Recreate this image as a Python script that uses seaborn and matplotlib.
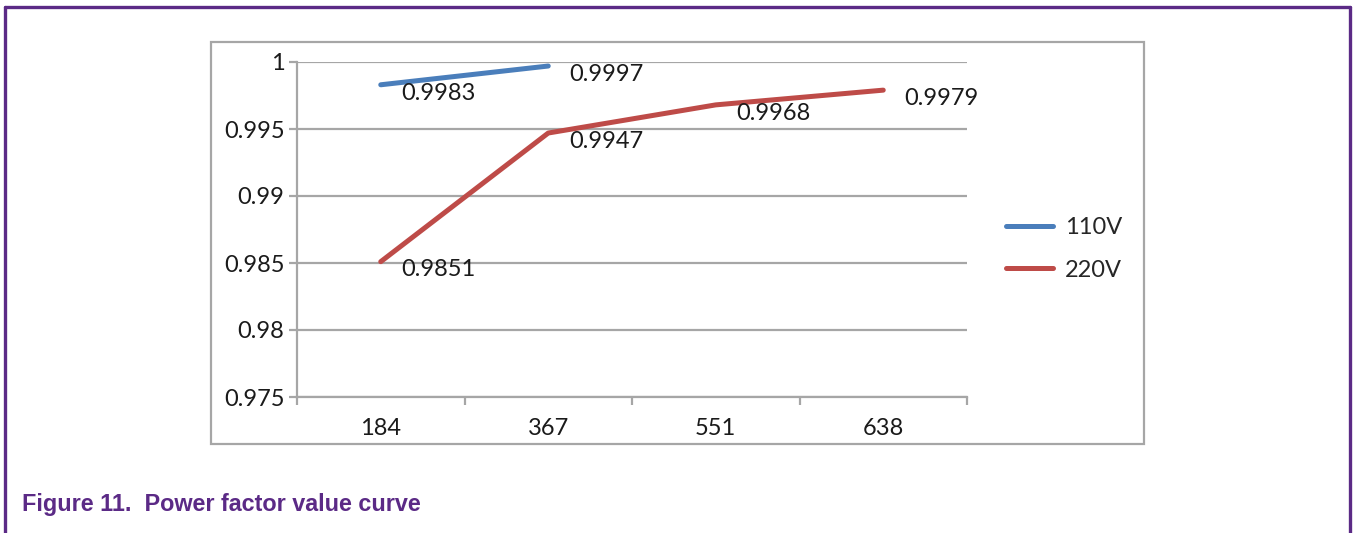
import matplotlib
matplotlib.use("Agg")
import matplotlib.pyplot as plt
from matplotlib.lines import Line2D
from matplotlib.patches import Rectangle
from matplotlib.ticker import FuncFormatter, FixedLocator
import seaborn as sns
import pandas as pd

# Load points (W) and measured power factor for each input voltage
loads = ["184", "367", "551", "638"]
pf_110v = [0.9983, 0.9997]
pf_220v = [0.9851, 0.9947, 0.9968, 0.9979]
series_names = ["110V", "220V"]
y_ticks = [0.975, 0.98, 0.985, 0.99, 0.995, 1.0]
caption = "Figure 11.  Power factor value curve"

colors = {"110V": "#4a7ebb", "220V": "#be4b48"}
grid_gray = "#a6a6a6"
purple = "#5b2a86"
text_color = "#1a1a1a"
fs = 17

sns.set_theme(style="white")
plt.rcParams["font.family"] = ["Lato", "DejaVu Sans"]

df = pd.concat([
    pd.DataFrame({"load": loads[:len(pf_110v)], "pf": pf_110v, "series": "110V"}),
    pd.DataFrame({"load": loads, "pf": pf_220v, "series": "220V"}),
], ignore_index=True)
df["pos"] = df["load"].map({l: i for i, l in enumerate(loads)})

W, H = 1354, 533
fig = plt.figure(figsize=(W / 100, H / 100), dpi=100)
ax = fig.add_axes([297 / W, 1 - 397 / H, (967 - 297) / W, (397 - 62) / H])

sns.lineplot(data=df, x="pos", y="pf", hue="series", palette=colors,
             hue_order=series_names, linewidth=3.6, ax=ax, legend=False,
             sort=False)

# Value labels next to each point
for name, vals in zip(series_names, [pf_110v, pf_220v]):
    for i, v in enumerate(vals):
        ax.annotate(f"{v:.4f}", (i, v), xytext=(15, -6),
                    textcoords="offset points", ha="left", va="center",
                    fontsize=fs, color=text_color)

ax.set_xlim(-0.5, len(loads) - 0.5)
ax.set_ylim(y_ticks[0], y_ticks[-1])
ax.set_xticks(range(len(loads)))
ax.set_xticklabels(loads)
ax.xaxis.set_minor_locator(FixedLocator([i - 0.5 for i in range(len(loads) + 1)]))
ax.set_yticks(y_ticks)
ax.yaxis.set_major_formatter(FuncFormatter(lambda v, _: f"{v:g}"))
ax.set_xlabel("")
ax.set_ylabel("")

ax.grid(axis="y", color=grid_gray, linewidth=1.6)
ax.set_axisbelow(True)
for side in ["top", "right"]:
    ax.spines[side].set_visible(False)
for side in ["left", "bottom"]:
    ax.spines[side].set_color(grid_gray)
    ax.spines[side].set_linewidth(1.6)

ax.tick_params(axis="y", which="major", left=True, length=6, width=1.6,
               color=grid_gray, labelsize=fs, labelcolor=text_color, pad=3)
ax.tick_params(axis="x", which="major", bottom=False, labelsize=fs,
               labelcolor=text_color, pad=9)
ax.tick_params(axis="x", which="minor", bottom=True, length=6, width=1.6,
               color=grid_gray)

handles = [Line2D([], [], color=colors[n], linewidth=3.6) for n in series_names]
fig.legend(handles, series_names, loc="center left",
           bbox_to_anchor=(1006 / W, 1 - 249 / H), frameon=False,
           fontsize=fs, handlelength=2.0, handletextpad=0.5,
           labelspacing=0.9, borderpad=0, borderaxespad=0)

# Chart area border
fig.patches.append(Rectangle((211 / W, 1 - 444 / H), (1144 - 211) / W,
                             (444 - 42) / H, transform=fig.transFigure,
                             fill=False, edgecolor=grid_gray, linewidth=1.6))

# Figure frame and caption
frame_kw = dict(transform=fig.transFigure, color=purple, linewidth=2.4)
fig.add_artist(Line2D([5 / W, 5 / W], [0, 1 - 7 / H], **frame_kw))
fig.add_artist(Line2D([1350 / W, 1350 / W], [0, 1 - 7 / H], **frame_kw))
fig.add_artist(Line2D([5 / W, 1350 / W], [1 - 7 / H, 1 - 7 / H], **frame_kw))
fig.text(22 / W, 1 - 505 / H, caption, color=purple, fontsize=16.8,
         fontweight="bold", family=["Liberation Sans", "DejaVu Sans"],
         ha="left", va="center")

fig.savefig("out.png", dpi=100)
